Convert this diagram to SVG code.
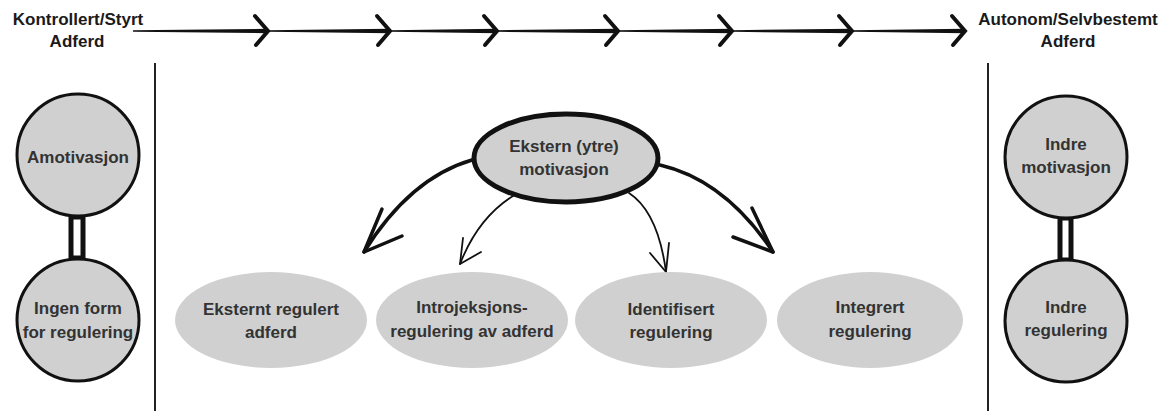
<svg xmlns="http://www.w3.org/2000/svg" width="1171" height="411" viewBox="0 0 1171 411">
<style>
text{font-family:"Liberation Sans",Arial,sans-serif;font-weight:bold;font-size:17px;fill:#333;text-anchor:middle}
.hdr{fill:#1a1a1a}
.circ{fill:#d0d0d0;stroke:#111;stroke-width:3}
.oval{fill:#d0d0d0;stroke:none}
.chev{fill:none;stroke:#111;stroke-width:4;stroke-linejoin:miter;stroke-linecap:round}
.seg{fill:#111}
.thick{fill:none;stroke:#111;stroke-width:3.5;stroke-linecap:round;stroke-linejoin:round}
.thin{fill:none;stroke:#111;stroke-width:1.8;stroke-linecap:round;stroke-linejoin:round}
.divider{stroke:#222;stroke-width:2}
.bar{fill:#fff;stroke:#111;stroke-width:5}
</style>
<rect width="1171" height="411" fill="#fff"/>

<g id="header-left"><text class="hdr" x="78" y="25">Kontrollert/Styrt</text><text class="hdr" x="77" y="47">Adferd</text></g>
<g id="header-right"><text class="hdr" x="1068" y="25">Autonom/Selvbestemt</text><text class="hdr" x="1068" y="47">Adferd</text></g>

<g id="dividers">
<line class="divider" x1="155" y1="63" x2="155" y2="411"/>
<line class="divider" x1="988" y1="63" x2="988" y2="411"/>
</g>

<g id="connectors">
<path class="seg" d="M133 30.2 L268 28.8 L268 33.2 L133 31.8 Z"/>
<path class="seg" d="M268 30.2 L390 28.8 L390 33.2 L268 31.8 Z"/>
<path class="seg" d="M390 30.2 L497 28.8 L497 33.2 L390 31.8 Z"/>
<path class="seg" d="M497 30.2 L618 28.8 L618 33.2 L497 31.8 Z"/>
<path class="seg" d="M618 30.2 L732 28.8 L732 33.2 L618 31.8 Z"/>
<path class="seg" d="M732 30.2 L852 28.8 L852 33.2 L732 31.8 Z"/>
<path class="seg" d="M852 30.2 L965 28.8 L965 33.2 L852 31.8 Z"/>
<polyline class="chev" points="255,16 268,31 256,45"/>
<polyline class="chev" points="377,16 390,31 378,45"/>
<polyline class="chev" points="484,16 497,31 485,45"/>
<polyline class="chev" points="605,16 618,31 606,45"/>
<polyline class="chev" points="719,16 732,31 720,45"/>
<polyline class="chev" points="839,16 852,31 840,45"/>
<polyline class="chev" points="952,16 965,31 953,45"/>

<rect class="bar" x="71" y="217" width="12" height="41"/>
<rect class="bar" x="1060" y="218" width="11" height="42"/>

<path class="thick" d="M472 160 Q410 178 364 252"/>
<polyline class="thick" points="382,209 364,252 402,236"/>
<path class="thin" d="M513 196 Q478 218 460 264"/>
<polyline class="thin" points="463,238 460,264 481,252"/>
<path class="thin" d="M629 193 Q658 212 666 272"/>
<polyline class="thin" points="650,253 666,272 669,243"/>
<path class="thick" d="M660 165 Q725 180 773 252"/>
<polyline class="thick" points="733,237 773,252 752,208"/>
</g>

<g id="amotivasjon"><circle class="circ" cx="78" cy="155" r="61"/><text x="78" y="163">Amotivasjon</text></g>
<g id="ingen-form"><circle class="circ" cx="78" cy="320" r="61"/><text x="78" y="314">Ingen form</text><text x="78" y="338">for regulering</text></g>

<g id="indre-motivasjon"><circle class="circ" cx="1066" cy="157" r="61"/><text x="1066" y="150">Indre</text><text x="1066" y="173">motivasjon</text></g>
<g id="indre-regulering"><circle class="circ" cx="1066" cy="321" r="61"/><text x="1066" y="313">Indre</text><text x="1066" y="336">regulering</text></g>

<g id="ekstern-motivasjon"><ellipse cx="566" cy="158" rx="92" ry="44" fill="#d0d0d0" stroke="#111" stroke-width="5"/><text x="564" y="152">Ekstern (ytre)</text><text x="564" y="175">motivasjon</text></g>

<g id="eksternt-regulert"><ellipse class="oval" cx="271" cy="320" rx="96" ry="48"/><text x="271" y="315">Eksternt regulert</text><text x="271" y="338">adferd</text></g>
<g id="introjeksjon"><ellipse class="oval" cx="472" cy="320" rx="96" ry="48"/><text x="472" y="313">Introjeksjons-</text><text x="472" y="337">regulering av adferd</text></g>
<g id="identifisert"><ellipse class="oval" cx="671" cy="320" rx="96" ry="48"/><text x="671" y="315">Identifisert</text><text x="671" y="338">regulering</text></g>
<g id="integrert"><ellipse class="oval" cx="870" cy="320" rx="93" ry="48"/><text x="870" y="313">Integrert</text><text x="870" y="337">regulering</text></g>
</svg>
